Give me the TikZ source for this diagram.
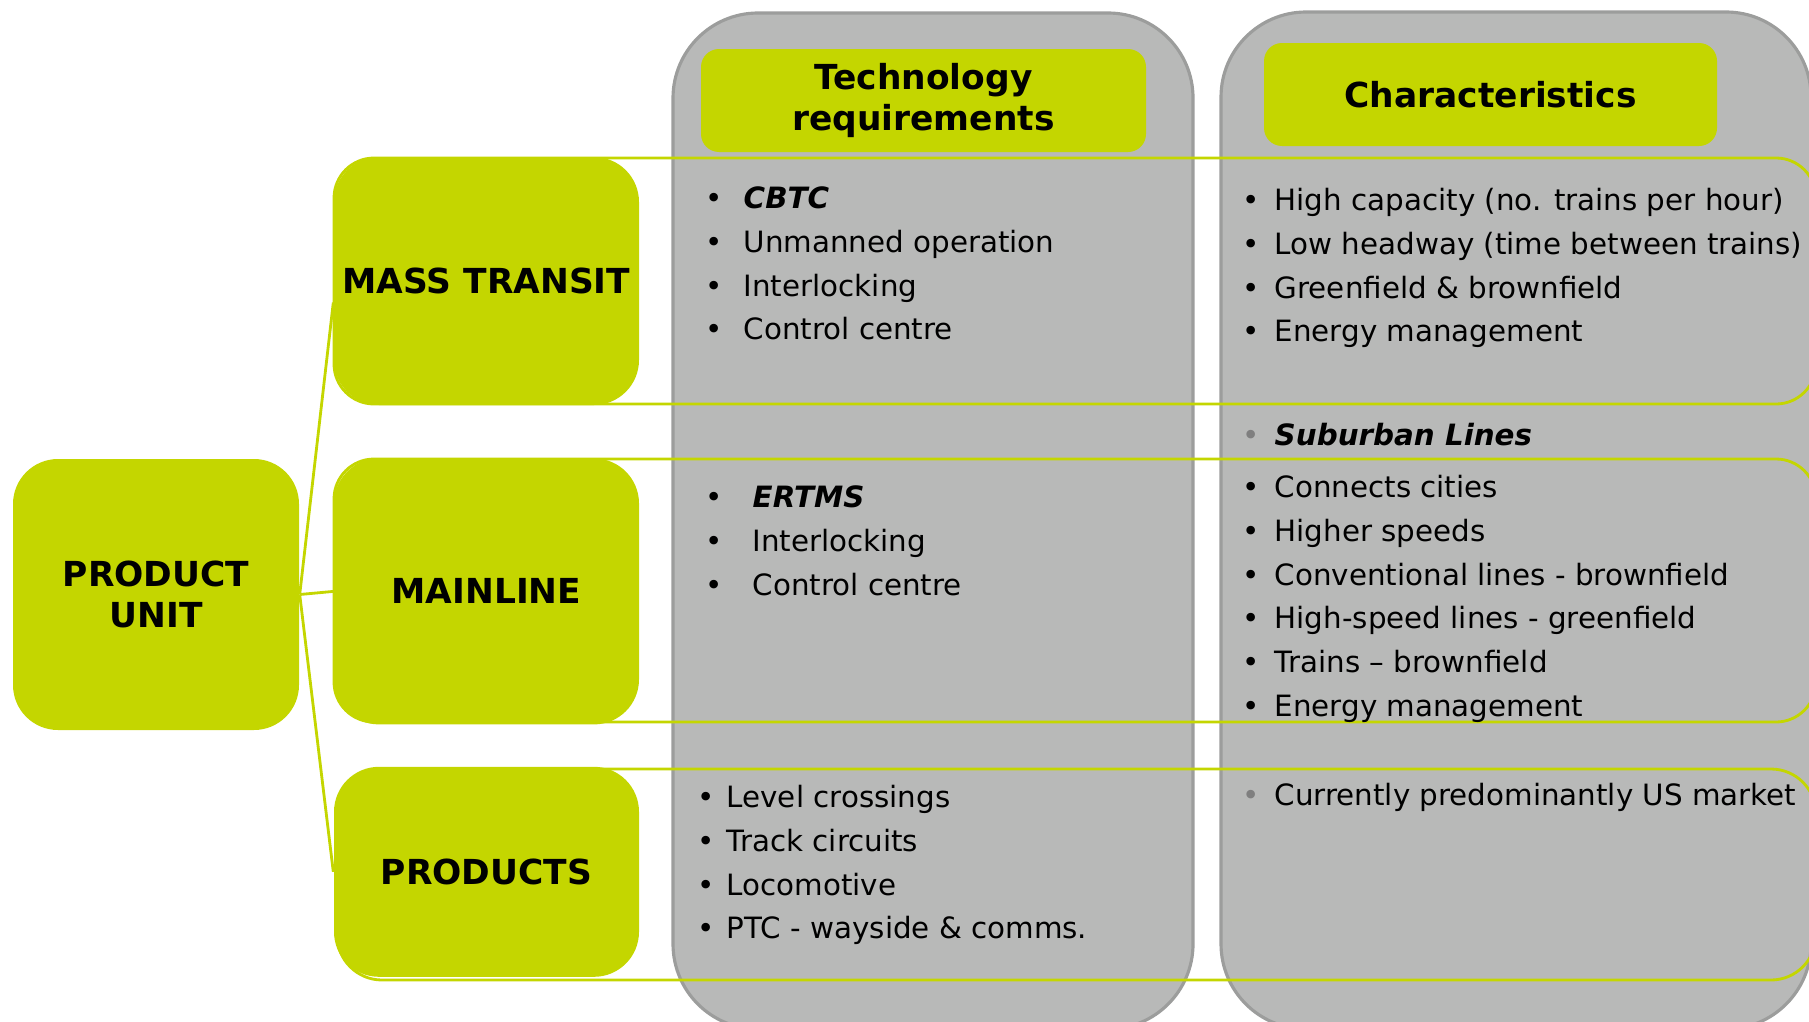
\documentclass[tikz,border=0pt]{standalone}
\usepackage{fontspec}
\setmainfont{DejaVu Sans}
\usetikzlibrary{positioning}

\definecolor{unitgreen}{HTML}{C4D600}
\definecolor{colgrey}{HTML}{B8B9B8}
\definecolor{colrim}{HTML}{9C9D9C}
\definecolor{dotgrey}{HTML}{7F7F7F}

% bullet with a fixed indent before the item text
\newcommand\bul[1]{\strut\makebox[#1][l]{\textbullet}}
\newcommand\gbul[1]{\strut\makebox[#1][l]{\textcolor{dotgrey}{\textbullet}}}

\begin{document}
\begin{tikzpicture}[
    x=0.1mm, y=-0.1mm,
    column/.style={rectangle, fill=colgrey, draw=colrim, line width=0.9pt, rounded corners=8.5mm, inner sep=0pt},
    header/.style={rectangle, fill=unitgreen, rounded corners=1.8mm, inner sep=0pt, align=center, font=\fontsize{9.8}{11.8}\selectfont\bfseries},
    unitbox/.style={rectangle, fill=unitgreen, rounded corners=4.5mm, minimum width=30.5mm, inner sep=0pt, align=center, font=\fontsize{9.8}{11.8}\selectfont\bfseries},
    rowline/.style={draw=unitgreen, line width=0.8pt, rounded corners=4mm},
    link/.style={draw=unitgreen, line width=0.8pt},
    items/.style={anchor=north west, inner sep=0pt, align=left, font=\fontsize{8.35}{12.45}\selectfont},
    node distance=5.2mm
]
\useasboundingbox (0,0) rectangle (1809,1021);

% grey columns
\node[column, minimum width=52mm, minimum height=101.6mm] (techcol) at (933,521) {};
\node[column, minimum width=59mm, minimum height=101.7mm] (charcol) at (1516,520.5) {};

% row outlines
\draw[rowline] (334,158) rectangle (1816,404);
\draw[rowline] (334,459) rectangle (1816,722);
\draw[rowline, rounded corners=4.5mm] (337,769) rectangle (1816,980);

% column headers
\node[header, minimum width=44.5mm, minimum height=10.3mm] (techhead) at (923.5,100.5) {Technology\\requirements};
\node[header, minimum width=45.3mm, minimum height=10.3mm] (charhead) at (1490.5,94.5) {Characteristics};

% unit boxes
\node[unitbox, minimum width=28.6mm, minimum height=27.1mm] (unit) at (156,594.5) {PRODUCT\\UNIT};
\node[unitbox, minimum height=24.8mm] (mass) at (486.5,281) {MASS TRANSIT};
\node[unitbox, minimum height=26.6mm, below=of mass] (mainline) {MAINLINE};
\node[unitbox, minimum height=21mm, below=4.1mm of mainline] (products) {PRODUCTS};

\draw[link] (unit.east) -- (mass.188);
\draw[link] (unit.east) -- (mainline.west);
\draw[link] (unit.east) -- (products.west);

% technology requirements
\node[items] (techmass) at (705,177.3) {\bul{3.8mm}\textbf{\textit{CBTC}}\\
    \bul{3.8mm}Unmanned operation\\ \bul{3.8mm}Interlocking\\ \bul{3.8mm}Control centre};
\node[items] (techmain) at (705,476.3) {\bul{4.7mm}\textbf{\textit{ERTMS}}\\
    \bul{4.7mm}Interlocking\\ \bul{4.7mm}Control centre};
\node[items] (techprod) at (697,776.3) {\bul{2.9mm}Level crossings\\ \bul{2.9mm}Track circuits\\
    \bul{2.9mm}Locomotive\\ \bul{2.9mm}PTC - wayside \& comms.};

% characteristics
\node[items] (charmass) at (1242,179.3) {\bul{3.2mm}High capacity (no. trains per hour)\\
    \bul{3.2mm}Low headway (time between trains)\\ \bul{3.2mm}Greenfield \& brownfield\\
    \bul{3.2mm}Energy management};
\node[items] (charsub) at (1242,414.3) {\gbul{3.2mm}\textbf{\textit{Suburban Lines}}};
\node[items] (charmain) at (1242,466.3) {\bul{3.2mm}Connects cities\\ \bul{3.2mm}Higher speeds\\
    \bul{3.2mm}Conventional lines - brownfield\\ \bul{3.2mm}High-speed lines - greenfield\\
    \bul{3.2mm}Trains \textendash{} brownfield\\ \bul{3.2mm}Energy management};
\node[items] (charprod) at (1242,774.3) {\gbul{3.2mm}Currently predominantly US market};

\end{tikzpicture}
\end{document}
